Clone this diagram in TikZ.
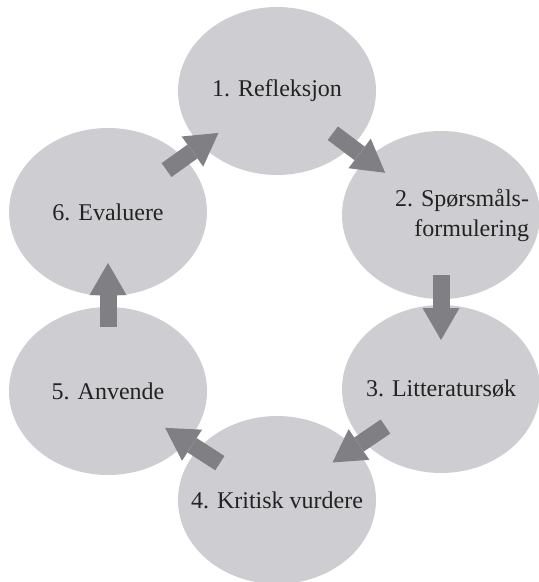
\documentclass[tikz,border=0pt]{standalone}
\usepackage{fontspec}
\setmainfont{Liberation Serif}
\usetikzlibrary{arrows.meta, shapes.geometric}
\definecolor{my_gray}{RGB}{206, 206, 210}
\definecolor{my_darkgray}{RGB}{128, 128, 132}
\definecolor{my_text}{RGB}{35, 35, 35}
\tikzset {
  stage/.style = {ellipse, fill=my_gray, minimum width=99pt, minimum height=84pt, inner sep=0pt},
  stagetext/.style = {text=my_text, font=\fontsize{12}{15}\selectfont, inner sep=0pt},
  flow/.style = {draw=my_darkgray, line width=8.5pt, -{Triangle[length=16pt, width=18.5pt, line width=0pt]}, shorten <=34pt, shorten >=34pt},
}

\begin{document}
\begin{tikzpicture}[x=0.5pt, y=-0.5pt]
    \useasboundingbox (0,0) rectangle (539,582);

    \node[stage, label={[stagetext]center:1. Refleksjon}] (refl) at (277,91) {};
    \node[stage, label={[stagetext, align=right, xshift=10.5pt]center:{2. Spørsmåls-\\formulering}}] (spm) at (441,215) {};
    \node[stage, label={[stagetext]center:3. Litteratursøk}] (litt) at (441,389) {};
    \node[stage, label={[stagetext]center:4. Kritisk vurdere}] (krit) at (277,500) {};
    \node[stage, label={[stagetext]center:5. Anvende}] (anv) at (108,391) {};
    \node[stage, label={[stagetext]center:6. Evaluere}] (eval) at (108,212) {};

    \draw[flow, shorten <=35pt, shorten >=35pt] (refl.center) -- (spm.center);
    \draw[flow, shorten <=30pt, shorten >=24.5pt] (spm.center) -- (litt.center);
    \draw[flow, shorten <=33.5pt, shorten >=33.5pt] (litt.center) -- (krit.center);
    \draw[flow] (krit.center) -- (anv.center);
    \draw[flow, shorten <=32pt, shorten >=25.5pt] (anv.center) -- (eval.center);
    \draw[flow, shorten <=36pt, shorten >=36pt] (eval.center) -- (refl.center);

\end{tikzpicture}
\end{document}
